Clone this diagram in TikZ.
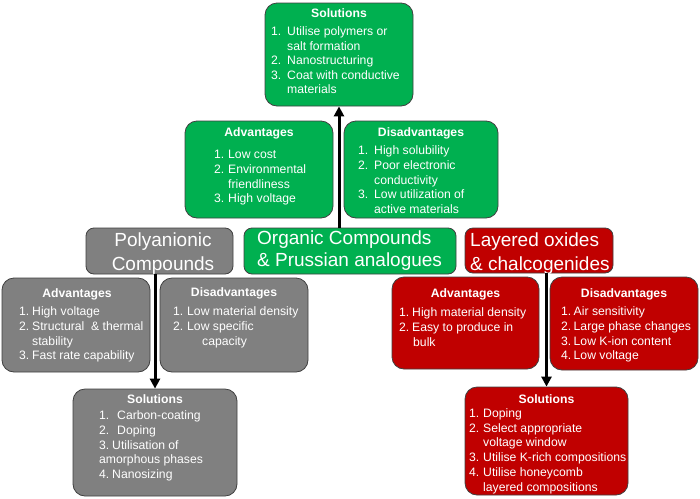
\documentclass[tikz,border=0pt]{standalone}
\usepackage{fontspec}
\setmainfont{Liberation Sans}
\usetikzlibrary{arrows.meta}
\definecolor{grn}{HTML}{00B050}
\definecolor{gry}{HTML}{808080}
\definecolor{rd}{HTML}{C00000}
\newcommand\nm[2]{\makebox[#1][l]{#2}}
\begin{document}
\begin{tikzpicture}[x=1pt,y=-1pt,
  pane/.style={draw=black!75, line width=0.8pt, rounded corners=12pt, inner sep=0pt},
  bigpane/.style={pane, rounded corners=8pt},
  ttl/.style={text=white, font=\fontsize{12.2}{14.8}\selectfont\bfseries, inner sep=0pt, anchor=base},
  lst/.style={text=white, font=\fontsize{12.2}{14.8}\selectfont, inner sep=0pt, anchor=north west, align=left},
  lbl/.style={text=white, inner sep=0pt, anchor=north west, align=left},
  arr/.style={line width=3pt, -{Triangle[width=10pt,length=10pt]}}
]
\fill[white] (0,0) rectangle (700,498);
\useasboundingbox (0,0) rectangle (700,498);

% ---------- Organic (green) ----------
\node[pane, fill=grn, minimum width=148pt, minimum height=103pt] (tsol) at (339,54.5) {};
\node[ttl] (tsolt) at (339,17.1) {Solutions};
\node[lst, font=\fontsize{12.2}{14.45}\selectfont] (tsoll) at (271,25.5) {\strut\nm{16pt}{1.}Utilise polymers or\\
\nm{16pt}{}salt formation\\
\nm{16pt}{2.}Nanostructuring\\
\nm{16pt}{3.}Coat with conductive\\
\nm{16pt}{}materials};

\node[pane, fill=grn, minimum width=148pt, minimum height=97pt] (gadv) at (259,169.5) {};
\node[ttl] (gadvt) at (259,136.7) {Advantages};
\node[lst] (gadvl) at (214,148) {\strut\nm{14pt}{1.}Low cost\\
\nm{14pt}{2.}Environmental\\
\nm{14pt}{}friendliness\\
\nm{14pt}{3.}High voltage};

\node[pane, fill=grn, minimum width=154pt, minimum height=97pt] (gdis) at (421,169.5) {};
\node[ttl] (gdist) at (421,136.7) {Disadvantages};
\node[lst] (gdisl) at (358,144) {\strut\nm{16pt}{1.}High solubility\\
\nm{16pt}{2.}Poor electronic\\
\nm{16pt}{}conductivity\\
\nm{16pt}{3.}Low utilization of\\
\nm{16pt}{}active materials};

\node[bigpane, fill=grn, minimum width=212pt, minimum height=46pt] (org) at (350,251) {};
\node[lbl, font=\fontsize{19}{21.6}\selectfont] (orgl) at (257,229.4) {\strut Organic Compounds\\ \& Prussian analogues};

% ---------- Polyanionic (grey) ----------
\node[bigpane, fill=gry, minimum width=147pt, minimum height=46pt] (poly) at (159.5,251) {};
\node[lbl, anchor=north, align=center, font=\fontsize{19}{23.2}\selectfont] (polyl) at (163,230.5) {\strut Polyanionic\\ Compounds};

\node[pane, fill=gry, minimum width=148pt, minimum height=94pt] (yadv) at (76,325) {};
\node[ttl] (yadvt) at (77,297.7) {Advantages};
\node[lst] (yadvl) at (19,305) {\strut\nm{13pt}{1.}High voltage\\
\nm{13pt}{2.}Structural\ \ \& thermal\\
\nm{13pt}{}stability\\
\nm{13pt}{3.}Fast rate capability};

\node[pane, fill=gry, minimum width=148pt, minimum height=94pt] (ydis) at (234,325) {};
\node[ttl] (ydist) at (234,296.1) {Disadvantages};
\node[lst] (ydisl) at (173,305) {\strut\nm{14pt}{1.}Low material density\\
\nm{14pt}{2.}Low specific\\
\hspace*{29pt}capacity};

\node[pane, fill=gry, minimum width=164pt, minimum height=107pt] (ysol) at (155,442.5) {};
\node[ttl] (ysolt) at (155,403.7) {Solutions};
\node[lst] (ysoll) at (99,409) {\strut\nm{18pt}{1.}Carbon-coating\\
\nm{18pt}{2.}Doping\\
\nm{13pt}{3.}Utilisation of\\
amorphous phases\\
\nm{13pt}{4.}Nanosizing};

% ---------- Layered (red) ----------
\node[bigpane, fill=rd, minimum width=148pt, minimum height=45pt] (lay) at (539,250.5) {};
\node[lbl, font=\fontsize{19}{23.2}\selectfont] (layl) at (470,230.5) {\strut Layered oxides\\ \& chalcogenides};

\node[pane, fill=rd, minimum width=147pt, minimum height=92pt] (radv) at (465.5,323) {};
\node[ttl] (radvt) at (465.5,297.7) {Advantages};
\node[lst] (radvl) at (399,306.3) {\strut\nm{13pt}{1.}High material density\\
\nm{13pt}{2.}Easy to produce in\\
\hspace*{14pt}bulk};

\node[pane, fill=rd, minimum width=148pt, minimum height=93pt] (rdis) at (624,323.5) {};
\node[ttl] (rdist) at (624,297.7) {Disadvantages};
\node[lst] (rdisl) at (561,305) {\strut\nm{12.5pt}{1.}Air sensitivity\\
\nm{12.5pt}{2.}Large phase changes\\
\nm{12.5pt}{3.}Low K-ion content\\
\nm{12.5pt}{4.}Low voltage};

\node[pane, fill=rd, minimum width=163pt, minimum height=108pt] (rsol) at (546.5,441) {};
\node[ttl] (rsolt) at (546.5,403.7) {Solutions};
\node[lst] (rsoll) at (469,406.7) {\strut\nm{14pt}{1.}Doping\\
\nm{14pt}{2.}Select appropriate\\
\nm{14pt}{}voltage window\\
\nm{14pt}{3.}Utilise K-rich compositions\\
\nm{14pt}{4.}Utilise honeycomb\\
\nm{14pt}{}layered compositions};

% ---------- arrows ----------
\draw[arr] (org.north -| tsol.south) -- (tsol.south);
\draw[arr] (poly.south -| ysol.north) -- (ysol.north);
\draw[arr] (lay.south -| rsol.north) -- (rsol.north);
\end{tikzpicture}
\end{document}
